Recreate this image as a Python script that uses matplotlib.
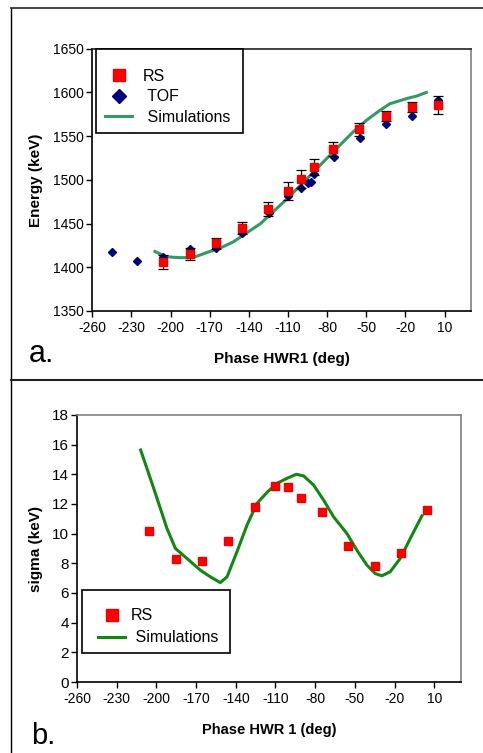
import numpy as np
import matplotlib
matplotlib.use('Agg')
import matplotlib.pyplot as plt
from matplotlib.lines import Line2D
from matplotlib.patches import Rectangle

plt.rcParams['font.family'] = ['Liberation Sans', 'DejaVu Sans']
plt.rcParams['axes.unicode_minus'] = False

# ---- panel a : energy vs phase ----
rs_a_phase = [-205.6, -185.4, -165.2, -145.3, -125.0, -110.3, -100.3, -90.3, -75.3, -55.3, -35.2, -15.2, 4.7]
rs_a_energy = [1406.4, 1414.8, 1427.4, 1444.5, 1467.0, 1487.2, 1501.0, 1515.0, 1535.3, 1557.7, 1573.0, 1583.0, 1585.6]
rs_a_err = [8, 7, 6, 7, 8, 10, 10, 9, 8, 7, 6, 5.5, 10]

tof_phase = [-245.0, -225.4, -205.6, -185.0, -165.5, -145.5, -124.8, -110.0, -100.0, -94.4, -92.6, -90.1, -75.0, -55.0, -35.2, -15.0, 4.7]
tof_energy = [1417.0, 1407.6, 1412.0, 1421.0, 1421.7, 1439.0, 1461.7, 1482.0, 1491.0, 1496.8, 1498.0, 1507.0, 1526.5, 1548.0, 1563.8, 1573.4, 1591.0]

sim_a_phase = [-212, -203, -193, -183, -172, -162, -152, -142, -131, -121, -111, -101, -91, -80, -70, -60, -50, -40, -32, -19, -11, -4]
sim_a_energy = [1418, 1412, 1411, 1411, 1417, 1422, 1429, 1439, 1450, 1464, 1478, 1493, 1508, 1525, 1540, 1555, 1568, 1579, 1587, 1593, 1596, 1600]

# ---- panel b : sigma vs phase ----
rs_b_phase = [-205.3, -185.2, -165.3, -145.6, -125.2, -110.1, -100.3, -90.5, -75.1, -55.0, -34.8, -15.2, 4.7]
rs_b_sigma = [10.19, 8.3, 8.17, 9.5, 11.77, 13.2, 13.12, 12.4, 11.43, 9.2, 7.85, 8.73, 11.57]

sim_b_phase = [-211.9, -202, -192, -185.6, -176.9, -166.8, -159.2, -151.7, -146.6, -139.1, -131.5, -124, -116.4,
               -108.9, -101.3, -94.3, -88.8, -81.2, -73.6, -66.1, -56, -48.5, -40.9, -34.6, -29.6, -23.3, -15.7, -8.1, 0.7]
sim_b_sigma = [15.64, 13.05, 10.35, 9.0, 8.33, 7.54, 7.09, 6.7, 7.09, 8.78, 10.58, 12.04, 12.78,
               13.39, 13.73, 14.0, 13.9, 13.28, 12.26, 11.14, 10.01, 8.89, 7.88, 7.31, 7.16, 7.43, 8.33, 9.68, 11.2]

xticks = list(range(-260, 11, 30))

W, H = 483, 753
fig = plt.figure(figsize=(W / 100, H / 100), dpi=100)


def px_rect(left, top, right, bottom):
    return [left / W, 1 - bottom / H, (right - left) / W, (bottom - top) / H]


def style_axes(ax, xsize, ysize):
    ax.set_xlim(-260, 30)
    ax.set_xticks(xticks)
    ax.tick_params(direction='out', length=4, width=1, colors='black')
    ax.tick_params(axis='x', labelsize=xsize, pad=3)
    ax.tick_params(axis='y', labelsize=ysize, pad=2)
    ax.spines['left'].set_color('black')
    ax.spines['bottom'].set_color('black')
    ax.spines['right'].set_color('#808080')
    ax.spines['top'].set_color('#808080')
    for s in ax.spines.values():
        s.set_linewidth(1.2)


def legend_frame(ax, x0, y0, w, h):
    # Excel-style legend box, drawn separately so the padding can be uneven
    ax.add_patch(Rectangle((x0, y0), w, h, transform=ax.transAxes, facecolor='white',
                           edgecolor='black', lw=1.2, zorder=4.9, clip_on=False))


# outer frames
fig.add_artist(Line2D([11 / W, 11 / W], [0, 1 - 8 / H], color='black', lw=1.0))
fig.add_artist(Line2D([11 / W, 1], [1 - 8 / H, 1 - 8 / H], color='#333333', lw=1.3))
fig.add_artist(Line2D([11 / W, 1], [1 - 380 / H, 1 - 380 / H], color='#222222', lw=1.5))

# panel a
ax1 = fig.add_axes(px_rect(92.3, 48.7, 470.7, 311))
style_axes(ax1, 10, 10)
ax1.spines['top'].set_color('#222222')
ax1.set_ylim(1350, 1650)
ax1.set_yticks(range(1350, 1651, 50))

ax1.plot(sim_a_phase, sim_a_energy, color='#339966', lw=2.2, zorder=2, label=' Simulations')
ax1.plot(tof_phase, tof_energy, 'D', color='#000080', markersize=4.5, markeredgecolor='#000080', zorder=3, label=' TOF')
ax1.errorbar(rs_a_phase, rs_a_energy, yerr=rs_a_err, fmt='none', ecolor='black', elinewidth=0.9,
             capsize=3.5, capthick=0.9, zorder=3.5)
ax1.plot(rs_a_phase, rs_a_energy, 's', color='#ff0000', markersize=5.5, markeredgecolor='#ee0000', zorder=4, label='RS')

legend_frame(ax1, 0.00899, 0.6798, 0.3885, 0.318)
h, l = ax1.get_legend_handles_labels()
order = [2, 1, 0]
ax1.legend([h[i] for i in order], [l[i] for i in order], loc='upper left',
           bbox_to_anchor=(0.0336, 0.9245), borderaxespad=0, borderpad=0, fontsize=11.5,
           frameon=False, markerscale=1.6, handlelength=1.7, handletextpad=0.69, labelspacing=0.35)

ax1.set_ylabel('Energy (keV)', fontsize=11, fontweight='bold')
ax1.yaxis.set_label_coords(-0.131, 0.5)
ax1.set_xlabel('Phase HWR1 (deg)', fontsize=11, fontweight='bold')
ax1.xaxis.set_label_coords(0.501, -0.155)

fig.text(29 / W, 1 - 361.7 / H, 'a.', fontsize=22, va='baseline', ha='left')

# panel b
ax2 = fig.add_axes(px_rect(77, 415, 460.7, 682))
style_axes(ax2, 10, 11)
ax2.set_ylim(0, 18)
ax2.set_yticks(range(0, 19, 2))

ax2.plot(sim_b_phase, sim_b_sigma, color='#118811', lw=2.2, zorder=2, label=' Simulations')
ax2.plot(rs_b_phase, rs_b_sigma, 's', color='#ff0000', markersize=6.2, markeredgecolor='#ee0000', zorder=4, label='RS')

legend_frame(ax2, 0.01225, 0.1086, 0.3865, 0.236)
h, l = ax2.get_legend_handles_labels()
ax2.legend([h[1], h[0]], [l[1], l[0]], loc='upper left',
           bbox_to_anchor=(0.0547, 0.2764), borderaxespad=0, borderpad=0, fontsize=11.5,
           frameon=False, markerscale=1.4, handlelength=1.7, handletextpad=0.375, labelspacing=0.45)

ax2.set_ylabel('sigma (keV)', fontsize=11, fontweight='bold')
ax2.yaxis.set_label_coords(-0.0894, 0.498)
ax2.set_xlabel('Phase HWR 1 (deg)', fontsize=10.5, fontweight='bold')
ax2.xaxis.set_label_coords(0.5, -0.155)

fig.text(31 / W, 1 - 744.3 / H, 'b.', fontsize=21, va='baseline', ha='left')

fig.savefig('out.png', dpi=100)
